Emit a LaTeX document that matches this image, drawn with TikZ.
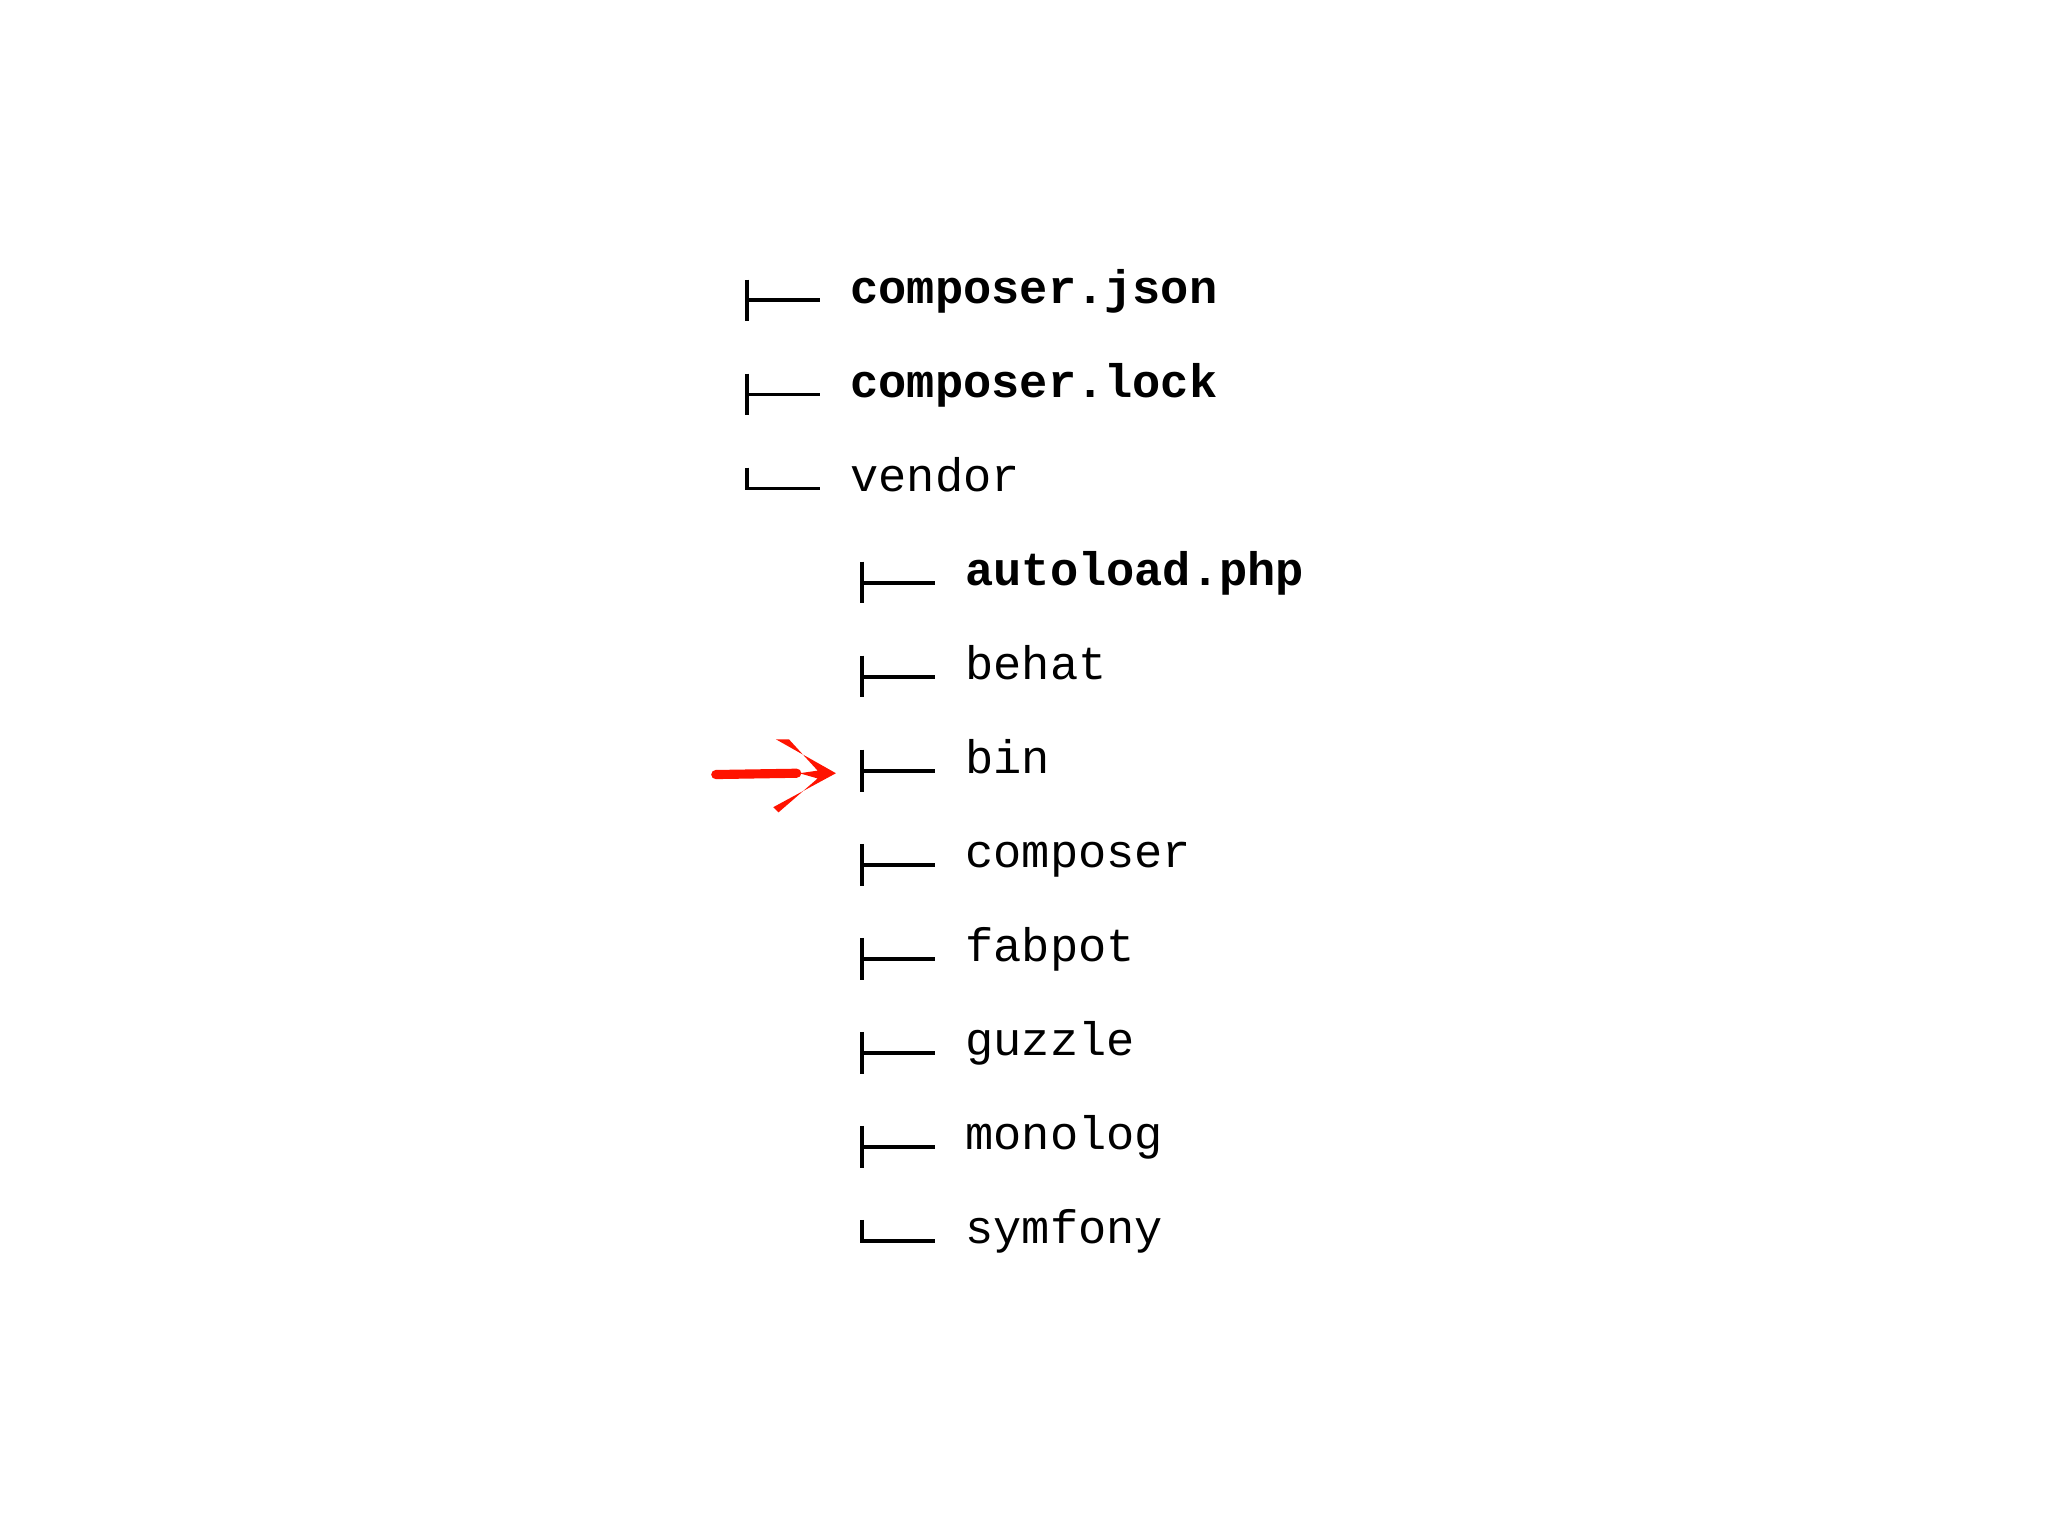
\documentclass[tikz,border=0pt]{standalone}
\usepackage{fontspec}
\setmonofont{Liberation Mono}
\begin{document}
\begin{tikzpicture}[x=1pt,y=-1pt,
  lbl/.style={anchor=mid west,inner sep=0pt,font=\fontsize{36}{40}\selectfont\ttfamily},
  bl/.style={lbl,font=\fontsize{36}{40}\selectfont\ttfamily\bfseries},
  tree/.style={line width=3pt,black}]
\useasboundingbox (0,0) rectangle (1568,1176);
\newcommand\treetee[2]{\draw[tree] (#1,#2-16) -- (#1,#2+16); \draw[tree] (#1,#2) -- (#1+56,#2);}
\newcommand\treeell[2]{\draw[tree] (#1,#2-16) -- (#1,#2) -- (#1+56,#2);}
\treetee{572}{230} \node[bl] (cj) at (651,230) {composer.json};
\treetee{572}{302} \node[bl] (cl) at (651,302) {composer.lock};
\treeell{572}{374} \node[lbl] (v) at (651,374) {vendor};
\treetee{660}{446} \node[bl] (a) at (739,446) {autoload.php};
\treetee{660}{518} \node[lbl] (b) at (739,518) {behat};
\treetee{660}{590} \node[lbl] (bin) at (739,590) {bin};
\treetee{660}{662} \node[lbl] (c) at (739,662) {composer};
\treetee{660}{734} \node[lbl] (f) at (739,734) {fabpot};
\treetee{660}{806} \node[lbl] (g) at (739,806) {guzzle};
\treetee{660}{878} \node[lbl] (m) at (739,878) {monolog};
\treeell{660}{950} \node[lbl] (s) at (739,950) {symfony};
\coordinate (as) at (548,593);
\coordinate (ae) at (640,592);
\draw[red!85!orange,line width=7pt,line cap=round] (as) -- (610,592);
\fill[red!85!orange] (ae) -- (594,566) -- (604,566) -- (626,590) -- (612,592) -- (626,596) -- (596,622) -- (592,618) -- cycle;
\end{tikzpicture}
\end{document}
